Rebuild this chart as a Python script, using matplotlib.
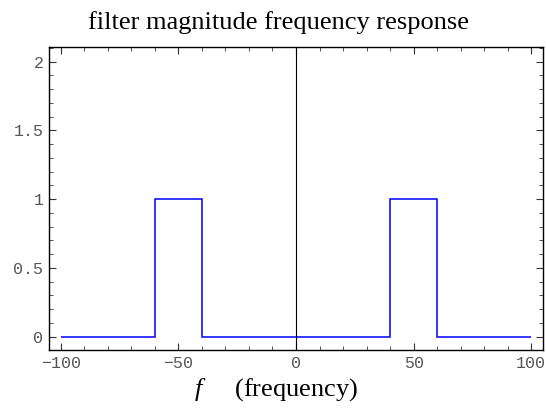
import matplotlib
matplotlib.use("Agg")
import matplotlib.pyplot as plt
from matplotlib.ticker import MultipleLocator

# passband edges (frequency) and magnitude on each segment
band_edges = [-100, -60, -40, 40, 60, 100]
magnitude = [0, 1, 0, 1, 0]

x_ticks = [-100, -50, 0, 50, 100]
y_ticks = [0, 0.5, 1, 1.5, 2]
y_tick_labels = ["0", "0.5", "1", "1.5", "2"]

plt.rcParams["mathtext.fontset"] = "custom"
plt.rcParams["mathtext.it"] = "Liberation Serif:italic"
plt.rcParams["mathtext.rm"] = "Liberation Serif"

fig = plt.figure(figsize=(5.46, 4.09), dpi=100)
ax = fig.add_axes([49 / 546, 1 - 350 / 409, 494 / 546, 303 / 409])

ax.axvline(0, color="black", linewidth=0.8)
ax.stairs(magnitude, band_edges, baseline=None, color="#0000ff", linewidth=1.1)

ax.set_xlim(-105, 105)
ax.set_ylim(-0.097, 2.107)
ax.set_xticks(x_ticks)
ax.set_yticks(y_ticks)
ax.set_yticklabels(y_tick_labels)
ax.xaxis.set_minor_locator(MultipleLocator(10))
ax.yaxis.set_minor_locator(MultipleLocator(0.1))
ax.tick_params(which="both", direction="in", top=True, right=True, color="#333333")
ax.tick_params(which="major", length=5, width=0.8, labelsize=12, labelcolor="#555555", pad=4)
ax.tick_params(which="minor", length=3, width=0.6)
for label in ax.get_xticklabels() + ax.get_yticklabels():
    label.set_family("Liberation Mono")
for spine in ax.spines.values():
    spine.set_linewidth(1.0)

# title and label sit centred on the figure, not on the axes
ax.set_title("filter magnitude frequency response", family="Liberation Serif", fontsize=19, pad=13, x=0.4636)
ax.set_xlabel(r"$f$     (frequency)", family="Liberation Serif", fontsize=19, labelpad=5.5)
ax.xaxis.set_label_coords(0.4595, -0.085)

fig.savefig("out.png", dpi=100)
